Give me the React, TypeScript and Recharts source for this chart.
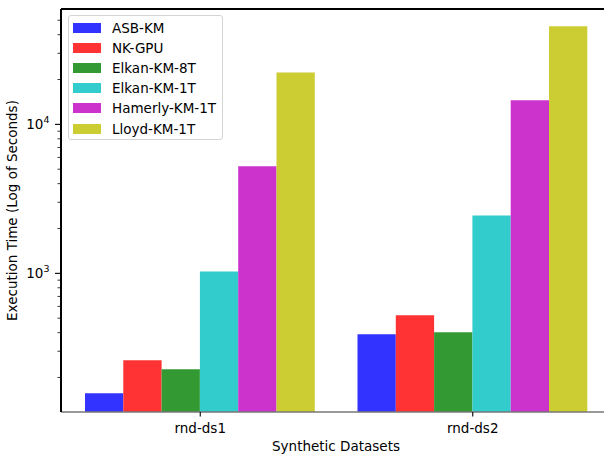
import React from 'react';
import { BarChart, Bar, XAxis, YAxis, Legend, ReferenceLine, Label } from 'recharts';

// Execution time (seconds) per dataset for each k-means implementation
const datasets = ['rnd-ds1', 'rnd-ds2'];
const asbKm = [157, 390];
const nkGpu = [261, 523];
const elkanKm8T = [227, 402];
const elkanKm1T = [1030, 2450];
const hamerlyKm1T = [5230, 14500];
const lloydKm1T = [22300, 45500];

const seriesNames = ['ASB-KM', 'NK-GPU', 'Elkan-KM-8T', 'Elkan-KM-1T', 'Hamerly-KM-1T', 'Lloyd-KM-1T'];
const seriesColors = ['#3333ff', '#ff3333', '#339933', '#33cccc', '#cc33cc', '#cccc33'];
const seriesValues = [asbKm, nkGpu, elkanKm8T, elkanKm1T, hamerlyKm1T, lloydKm1T];

// Log axis ticks: labelled decades and unlabelled minor ticks
const majorTicks = [1000, 10000];
const minorTicks = [200, 300, 400, 500, 600, 700, 800, 900, 2000, 3000, 4000, 5000, 6000, 7000, 8000, 9000, 20000, 30000, 40000, 50000];
const yDomain: [number, number] = [117.3, 59500];

const FONT = '"DejaVu Sans", sans-serif';
const FS = 13.5;

const data = datasets.map((name, i) => {
  const row: Record<string, string | number> = { name };
  seriesNames.forEach((s, j) => {
    row[s] = seriesValues[j][i];
  });
  return row;
});

const YTick = (props: any) => {
  const { x, y, payload } = props;
  const v = payload.value as number;
  const major = majorTicks.includes(v);
  const exp = Math.round(Math.log10(v));
  return (
    <g>
      <line x1={x - (major ? 6 : 3.5)} x2={x} y1={y} y2={y} stroke="#000" strokeWidth={major ? 1.1 : 0.8} />
      {major && (
        <text x={x - 11.5} y={y + 5} textAnchor="end" fontFamily={FONT} fontSize={FS} fill="#000">
          <tspan>10</tspan>
          <tspan dy={-6} fontSize={9.5}>{exp}</tspan>
        </text>
      )}
    </g>
  );
};

const XTick = (props: any) => {
  const { x, y, payload } = props;
  return (
    <g>
      <line x1={x} x2={x} y1={y} y2={y + 4.5} stroke="#000" strokeWidth={1.1} />
      <text x={x} y={y + 20.5} textAnchor="middle" fontFamily={FONT} fontSize={FS} fill="#000">
        {payload.value}
      </text>
    </g>
  );
};

const LegendBox = () => (
  <div
    style={{
      width: 155,
      height: 125,
      boxSizing: 'border-box',
      border: '1px solid #d4d4d4',
      borderRadius: 3,
      background: 'rgba(255,255,255,0.8)',
      paddingTop: 1.5,
      paddingLeft: 4,
      fontFamily: FONT,
      fontSize: FS,
      color: '#000',
    }}
  >
    {seriesNames.map((s, i) => (
      <div key={s} style={{ height: 20.2, display: 'flex', alignItems: 'center' }}>
        <div style={{ width: 28, height: 10, background: seriesColors[i], marginRight: 11 }} />
        <span style={{ lineHeight: '20px', whiteSpace: 'nowrap' }}>{s}</span>
      </div>
    ))}
  </div>
);

export default function App() {
  return (
    <div style={{ position: 'absolute', left: 0, top: 0, width: 604, height: 455, overflow: 'hidden', background: '#fff' }}>
      <BarChart
        width={620}
        height={455}
        data={data}
        margin={{ top: 9, right: 8, bottom: 0, left: 0 }}
        barGap={0}
      >
        <XAxis
          dataKey="name"
          height={43}
          padding={{ left: 3, right: 3 }}
          axisLine={{ stroke: '#777', strokeWidth: 1.5 }}
          tickLine={false}
          tickSize={0}
          tickMargin={0}
          tick={<XTick />}
        >
          <Label
            content={() => (
              <text x={336} y={450.5} textAnchor="middle" fontFamily={FONT} fontSize={FS} fill="#000">
                Synthetic Datasets
              </text>
            )}
          />
        </XAxis>
        <YAxis
          type="number"
          scale="log"
          domain={yDomain}
          allowDataOverflow
          ticks={[...minorTicks, ...majorTicks].sort((a, b) => a - b)}
          interval={0}
          width={61}
          tickSize={0}
          tickMargin={0}
          tickLine={false}
          axisLine={{ stroke: '#000', strokeWidth: 2 }}
          tick={<YTick />}
        >
          <Label
            content={(p: any) => {
              const vb = p.viewBox || { y: 9, height: 403 };
              const cy = vb.y + vb.height / 2;
              return (
                <text
                  x={17}
                  y={cy}
                  transform={`rotate(-90, 17, ${cy})`}
                  textAnchor="middle"
                  fontFamily={FONT}
                  fontSize={FS}
                  fill="#000"
                >
                  Execution Time (Log of Seconds)
                </text>
              );
            }}
          />
        </YAxis>
        <ReferenceLine y={yDomain[1]} stroke="#000" strokeWidth={2} />
        {seriesNames.map((s, i) => (
          <Bar key={s} dataKey={s} fill={seriesColors[i]} barSize={38.3} isAnimationActive={false} />
        ))}
        <Legend
          layout="vertical"
          align="center"
          verticalAlign="middle"
          wrapperStyle={{ top: 15, left: 68, right: 'auto', bottom: 'auto', width: 155, height: 125 }}
          content={() => <LegendBox />}
        />
      </BarChart>
    </div>
  );
}
